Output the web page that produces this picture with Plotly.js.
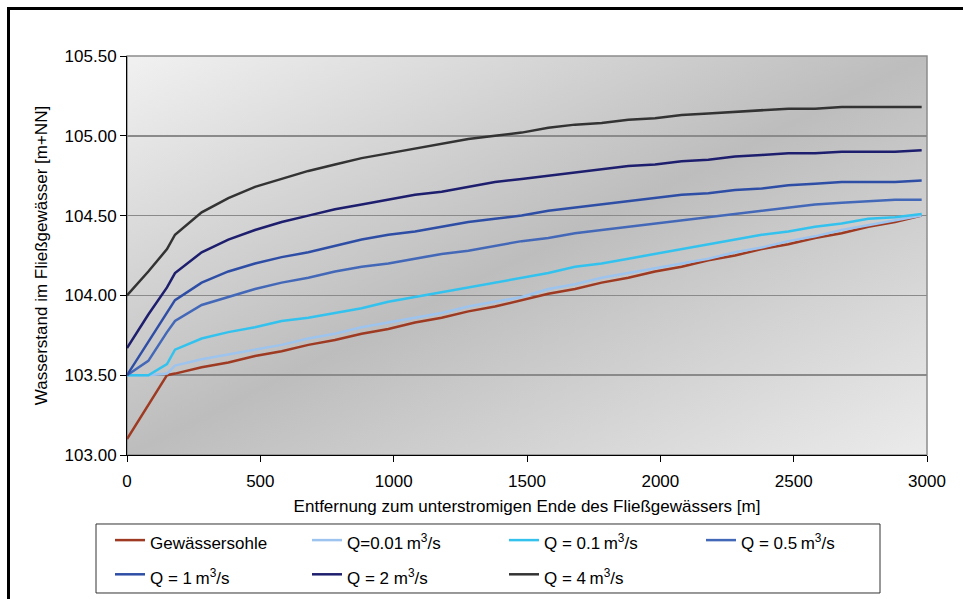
<!DOCTYPE html>
<html>
<head>
<meta charset="utf-8">
<script src="https://cdn.plot.ly/plotly-3.0.1.min.js"></script>
<style>
  html, body { margin: 0; padding: 0; background: #fff; }
  #wrap { position: relative; width: 963px; height: 599px; overflow: hidden; }
  #chart { position: absolute; left: 0; top: 0; width: 963px; height: 599px; }
  #frame { position: absolute; left: 7px; top: 7px; width: 1000px; height: 700px;
           border-left: 3px solid #000; border-top: 3px solid #000; pointer-events: none; }
</style>
</head>
<body>
<div id="wrap">
  <div id="chart"></div>
  <div id="frame"></div>
</div>
<script>
// Distance from the downstream end of the stream [m]
const distance = [0, 80, 150, 180, 280, 380, 480, 580, 680, 780, 880, 980, 1080, 1180, 1280,
  1380, 1480, 1580, 1680, 1780, 1880, 1980, 2080, 2180, 2280, 2380, 2480, 2580, 2680, 2780, 2880, 2980];

// Stream bed elevation [m+NN]
const sohle = [103.10, 103.31, 103.50, 103.51, 103.55, 103.58, 103.62, 103.65, 103.69, 103.72, 103.76,
  103.79, 103.83, 103.86, 103.90, 103.93, 103.97, 104.01, 104.04, 104.08, 104.11, 104.15, 104.18,
  104.22, 104.25, 104.29, 104.32, 104.36, 104.39, 104.43, 104.46, 104.50];

// Water levels for the individual discharges [m+NN]
const q001 = [103.50, 103.50, 103.51, 103.56, 103.60, 103.63, 103.66, 103.69, 103.73, 103.76, 103.80,
  103.83, 103.86, 103.89, 103.93, 103.96, 103.99, 104.04, 104.07, 104.11, 104.14, 104.17, 104.20,
  104.23, 104.27, 104.30, 104.34, 104.37, 104.41, 104.44, 104.47, 104.50];
const q01 = [103.50, 103.50, 103.57, 103.66, 103.73, 103.77, 103.80, 103.84, 103.86, 103.89, 103.92,
  103.96, 103.99, 104.02, 104.05, 104.08, 104.11, 104.14, 104.18, 104.20, 104.23, 104.26, 104.29,
  104.32, 104.35, 104.38, 104.40, 104.43, 104.45, 104.48, 104.49, 104.51];
const q05 = [103.50, 103.59, 103.77, 103.84, 103.94, 103.99, 104.04, 104.08, 104.11, 104.15, 104.18,
  104.20, 104.23, 104.26, 104.28, 104.31, 104.34, 104.36, 104.39, 104.41, 104.43, 104.45, 104.47,
  104.49, 104.51, 104.53, 104.55, 104.57, 104.58, 104.59, 104.60, 104.60];
const q1 = [103.50, 103.71, 103.89, 103.97, 104.08, 104.15, 104.20, 104.24, 104.27, 104.31, 104.35,
  104.38, 104.40, 104.43, 104.46, 104.48, 104.50, 104.53, 104.55, 104.57, 104.59, 104.61, 104.63,
  104.64, 104.66, 104.67, 104.69, 104.70, 104.71, 104.71, 104.71, 104.72];
const q2 = [103.67, 103.88, 104.05, 104.14, 104.27, 104.35, 104.41, 104.46, 104.50, 104.54, 104.57,
  104.60, 104.63, 104.65, 104.68, 104.71, 104.73, 104.75, 104.77, 104.79, 104.81, 104.82, 104.84,
  104.85, 104.87, 104.88, 104.89, 104.89, 104.90, 104.90, 104.90, 104.91];
const q4 = [104.00, 104.15, 104.29, 104.38, 104.52, 104.61, 104.68, 104.73, 104.78, 104.82, 104.86,
  104.89, 104.92, 104.95, 104.98, 105.00, 105.02, 105.05, 105.07, 105.08, 105.10, 105.11, 105.13,
  105.14, 105.15, 105.16, 105.17, 105.17, 105.18, 105.18, 105.18, 105.18];

const seriesNames = [
  'Gewässersohle',
  'Q=0.01\u2009m<sup>3</sup>/s',
  'Q = 0.1\u2009m<sup>3</sup>/s',
  'Q = 0.5\u2009m<sup>3</sup>/s',
  'Q = 1\u2009m<sup>3</sup>/s',
  'Q = 2 m<sup>3</sup>/s',
  'Q = 4\u2009m<sup>3</sup>/s'
];
const seriesValues = [sohle, q001, q01, q05, q1, q2, q4];
const seriesColors = ['#9e3a22', '#9cc4ee', '#33c2ee', '#4468b8', '#2e4ea6', '#1e1e6e', '#333333'];

const yTicks = [103.0, 103.5, 104.0, 104.5, 105.0, 105.5];
const xTicks = [0, 500, 1000, 1500, 2000, 2500, 3000];

const font = 'Liberation Sans, Arial, sans-serif';

// Legend labels are set at 17px inside a taller legend line, which gives the roomier rows
const traces = seriesValues.map((vals, i) => ({
  type: 'scatter',
  mode: 'lines',
  x: distance,
  y: vals,
  name: '<span style="font-size:17px">' + seriesNames[i] + '</span>',
  line: { color: seriesColors[i], width: 2.5 },
  hoverinfo: 'x+y'
}));

// Diagonal grey shading of the plot area
const bgSvg = '<svg xmlns="http://www.w3.org/2000/svg" width="100" height="100" viewBox="0 0 100 100" preserveAspectRatio="none">' +
  '<defs><linearGradient id="g" x1="0" y1="0" x2="1" y2="1">' +
  '<stop offset="0" stop-color="#f1f1f1"/><stop offset="0.5" stop-color="#bdbdbd"/><stop offset="1" stop-color="#ebebeb"/>' +
  '</linearGradient></defs><rect x="0" y="0" width="100" height="100" fill="url(#g)"/></svg>';
const bgUri = 'data:image/svg+xml;charset=utf-8,' + encodeURIComponent(bgSvg);

const layout = {
  width: 963,
  height: 599,
  margin: { l: 127, r: 36, t: 56, b: 144, autoexpand: false },
  paper_bgcolor: '#ffffff',
  plot_bgcolor: 'rgba(0,0,0,0)',
  font: { family: font, size: 17, color: '#000' },
  showlegend: true,
  xaxis: {
    range: [0, 3000],
    tickvals: xTicks,
    ticktext: xTicks.map(String),
    ticks: 'outside',
    ticklen: 6,
    ticklabelstandoff: 5,
    tickcolor: '#000',
    showgrid: false,
    zeroline: false,
    showline: true,
    linecolor: '#000',
    linewidth: 1,
    automargin: false,
    tickfont: { family: font, size: 17 },
    title: { text: 'Entfernung zum unterstromigen Ende des Fließgewässers [m]', font: { family: font, size: 17 }, standoff: 9 }
  },
  yaxis: {
    range: [103, 105.5],
    tickvals: yTicks,
    ticktext: yTicks.map(v => v.toFixed(2)),
    ticks: 'outside',
    ticklen: 6,
    tickcolor: '#000',
    showgrid: true,
    gridcolor: '#8a8a8a',
    gridwidth: 1.5,
    zeroline: false,
    showline: true,
    linecolor: '#000',
    linewidth: 1,
    automargin: false,
    tickfont: { family: font, size: 17 },
    title: { text: 'Wasserstand im Fließgewässer [m+NN]', font: { family: font, size: 17 }, standoff: 12 }
  },
  legend: {
    orientation: 'h',
    x: -0.02125,
    xanchor: 'left',
    y: -0.1579,
    yanchor: 'top',
    bgcolor: 'rgba(0,0,0,0)',
    borderwidth: 0,
    entrywidth: 152,
    entrywidthmode: 'pixels',
    font: { family: font, size: 24 },
    traceorder: 'normal'
  },
  images: [{
    source: bgUri,
    xref: 'paper', yref: 'paper',
    x: 0, y: 1, sizex: 1, sizey: 1,
    xanchor: 'left', yanchor: 'top',
    sizing: 'stretch',
    layer: 'below'
  }],
  shapes: [
    {
      // plot area outline
      type: 'rect', xref: 'paper', yref: 'paper',
      x0: 0, x1: 1, y0: 0, y1: 1,
      line: { color: '#8c8c8c', width: 1.5 },
      layer: 'below'
    },
    {
      // legend box
      type: 'rect', xref: 'paper', yref: 'paper',
      x0: -0.03875, x1: 0.94125, y0: -0.34586, y1: -0.17293,
      fillcolor: '#ffffff',
      line: { color: '#333333', width: 1 },
      layer: 'below'
    }
  ]
};

Plotly.newPlot('chart', traces, layout, { displayModeBar: false, staticPlot: true });
</script>
</body>
</html>
